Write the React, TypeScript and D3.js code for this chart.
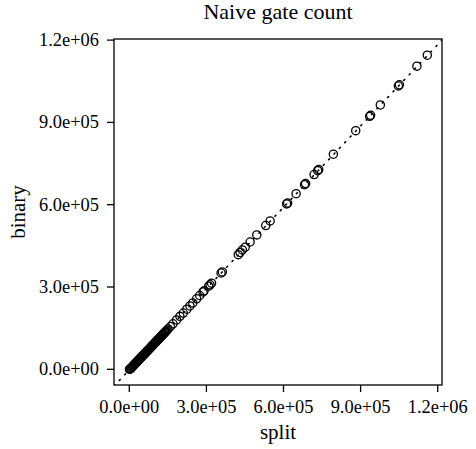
import React from "react";
import * as d3 from "d3";

const splitValues = [
  1159500, 1119000, 1051000, 1047000, 976700, 939000, 935000, 881000, 794000, 737000,
  733000, 719000, 686000, 682000, 649000, 616000, 612000, 548000, 531000, 496000,
  470000, 451000, 440000, 431000, 424000, 362000, 357000, 320000, 314000, 309000,
  291000, 287000, 274000, 262000, 247000, 236000, 224000, 210000, 197000, 184000,
  170000, 160000, 151000, 146000, 143000, 140000, 137500, 135000, 132500, 130000,
  127500, 125000, 122500, 120000, 117500, 115000, 112500, 110000, 107500, 105000,
  102500, 100000, 97500, 95000, 92500, 90000, 87500, 85000, 82500, 80000,
  77500, 75000, 72500, 70000, 67500, 65000, 62500, 60000, 57500, 55000,
  52500, 50000, 47500, 45000, 42500, 40000, 37500, 35000, 32500, 30000,
  27500, 25000, 22500, 20000, 17500, 15000, 12500, 10000, 7500, 5000,
  2500, 500,
];
const binaryValues = [
  1145000, 1105000, 1037000, 1033000, 963500, 926000, 922000, 870000, 784000, 728000,
  724000, 710000, 677000, 673000, 640000, 606000, 603000, 541000, 524000, 490000,
  464000, 445000, 435000, 426000, 418000, 355000, 351000, 314000, 308000, 303000,
  286000, 282000, 269000, 257000, 242000, 231000, 219000, 205000, 193000, 180000,
  166000, 156000, 147000, 142000, 139100, 136100, 133700, 131200, 128700, 126200,
  123800, 121300, 118800, 116400, 113900, 111400, 108900, 106500, 104000, 101500,
  99100, 96600, 94100, 91700, 89200, 86700, 84200, 81800, 79300, 76800,
  74400, 71900, 69400, 67000, 64500, 62000, 59600, 57100, 54600, 52100,
  49700, 47200, 44700, 42300, 39800, 37300, 34800, 32400, 29900, 27400,
  25000, 22500, 20000, 17600, 15100, 12600, 10200, 7700, 5200, 2700,
  300, 200,
];
const fitLine = [-2200, 0.988]; // intercept, slope
const tickValues = [0, 300000, 600000, 900000, 1200000];
const tickLabels = ["0.0e+00", "3.0e+05", "6.0e+05", "9.0e+05", "1.2e+06"];
const xDomain = [-59500, 1216700];
const yDomain = [-57200, 1204000];

const W = 476;
const H = 449;
const L = 114, R = 442, T = 39, B = 385;
const FONT = "'Liberation Serif', 'DejaVu Serif', serif";

export default function App() {
  const x = d3.scaleLinear().domain(xDomain).range([L, R]);
  const y = d3.scaleLinear().domain(yDomain).range([B, T]);
  const lineData: [number, number][] = xDomain.map((v) => [v, fitLine[0] + fitLine[1] * v]);
  const lineGen = d3
    .line<[number, number]>()
    .x((d) => x(d[0]))
    .y((d) => y(d[1]));

  return (
    <svg
      width={W}
      height={H}
      style={{ position: "absolute", left: 0, top: 0, background: "#fff" }}
      fontFamily={FONT}
    >
      <defs>
        <clipPath id="plotClip">
          <rect x={L} y={T} width={R - L} height={B - T} />
        </clipPath>
      </defs>
      <rect x={0} y={0} width={W} height={H} fill="#fff" />
      <text x={(L + R) / 2} y={19} textAnchor="middle" fontSize={22} fill="#000">
        Naive gate count
      </text>
      <g clipPath="url(#plotClip)">
        <path
          d={lineGen(lineData) || ""}
          fill="none"
          stroke="#000"
          strokeWidth={1.6}
          strokeDasharray="1.2 6.6"
          strokeLinecap="round"
        />
        {splitValues.map((s, i) => (
          <circle
            key={i}
            cx={x(s)}
            cy={y(binaryValues[i])}
            r={4.1}
            fill="none"
            stroke="#000"
            strokeWidth={1.3}
          />
        ))}
      </g>
      <rect x={L} y={T} width={R - L} height={B - T} fill="none" stroke="#000" strokeWidth={1.3} />
      {tickValues.map((t, i) => (
        <g key={"x" + i}>
          <line x1={x(t)} x2={x(t)} y1={B} y2={B + 7} stroke="#000" strokeWidth={1.3} />
          <text x={x(t)} y={413} textAnchor="middle" fontSize={18.4} fill="#000">
            {tickLabels[i]}
          </text>
        </g>
      ))}
      {tickValues.map((t, i) => (
        <g key={"y" + i}>
          <line x1={L - 7} x2={L} y1={y(t)} y2={y(t)} stroke="#000" strokeWidth={1.3} />
          <text x={99} y={y(t) + 6} textAnchor="end" fontSize={18.4} fill="#000">
            {tickLabels[i]}
          </text>
        </g>
      ))}
      <text x={(L + R) / 2} y={439} textAnchor="middle" fontSize={21} fill="#000">
        split
      </text>
      <text
        transform={`translate(25, ${(T + B) / 2}) rotate(-90)`}
        textAnchor="middle"
        fontSize={21}
        fill="#000"
      >
        binary
      </text>
    </svg>
  );
}
